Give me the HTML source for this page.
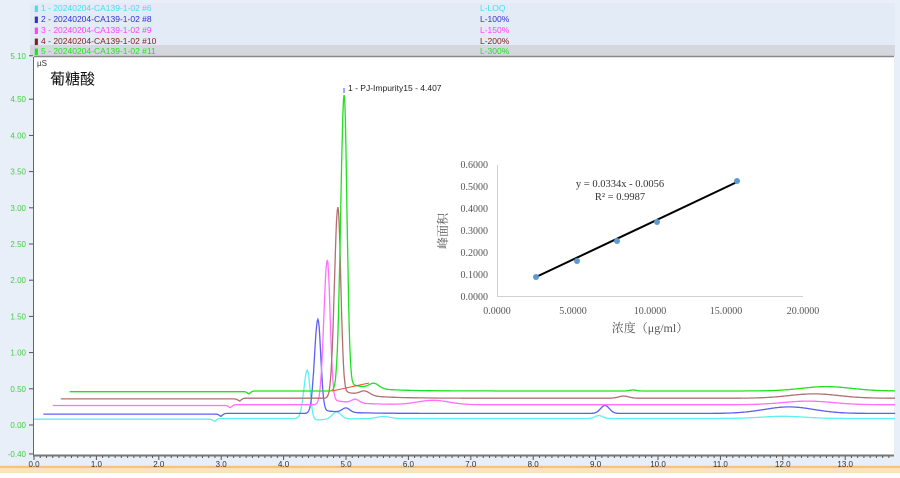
<!DOCTYPE html>
<html><head><meta charset="utf-8"><style>
body{margin:0;width:900px;height:473px;overflow:hidden;background:#fff;font-family:"Liberation Sans","Noto Sans CJK SC",sans-serif}
</style></head><body>
<svg id="s" width="900" height="473" xmlns="http://www.w3.org/2000/svg" font-family="Liberation Sans, Noto Sans CJK SC, sans-serif">
<rect x="0" y="0" width="900" height="473" fill="#e9eff8"/>
<rect x="30" y="3" width="865" height="54" fill="#e3ebf6"/>
<rect x="30" y="45" width="865" height="11" fill="#d4d8de"/>
<g font-size="8.5">
<text x="34" y="11" fill="#40e0f0">▮ 1 - 20240204-CA139-1-02 #6</text>
<text x="34" y="22" fill="#3030d0">▮ 2 - 20240204-CA139-1-02 #8</text>
<text x="34" y="33" fill="#ff40ff">▮ 3 - 20240204-CA139-1-02 #9</text>
<text x="34" y="44" fill="#802020">▮ 4 - 20240204-CA139-1-02 #10</text>
<text x="34" y="54" fill="#20e020">▮ 5 - 20240204-CA139-1-02 #11</text>
<text x="480" y="11" fill="#40e0f0">L-LOQ</text>
<text x="480" y="22" fill="#3030d0">L-100%</text>
<text x="480" y="33" fill="#ff40ff">L-150%</text>
<text x="480" y="44" fill="#802020">L-200%</text>
<text x="480" y="54" fill="#20e020">L-300%</text>
</g>
<rect x="34" y="57" width="860" height="398" fill="#fff"/>
<line x1="34" y1="56.5" x2="894" y2="56.5" stroke="#888" stroke-width="1.5"/>
<line x1="33.5" y1="57" x2="33.5" y2="456" stroke="#666"/>
<line x1="33" y1="455.5" x2="894" y2="455.5" stroke="#777" stroke-width="2"/>
<rect x="0" y="465" width="900" height="8" fill="#fbe3bd"/>
<rect x="0" y="466" width="900" height="2" fill="#f5c27a"/>
<g id="yt" font-size="8" fill="#40d040" text-anchor="end"></g>
<g id="xt" font-size="8" fill="#333" text-anchor="middle"></g>
<text x="37" y="66" font-size="8" fill="#333">µS</text>
<text x="50" y="84" font-size="15" fill="#111">葡糖酸</text>
<text x="348" y="91" font-size="8.5" fill="#222">1 - PJ-Impurity15 - 4.407</text>
<line x1="344" y1="88" x2="344" y2="93" stroke="#88f" stroke-width="1.5"/>
<g id="tr" fill="none" stroke-width="1.3"></g>
<line x1="332" y1="391" x2="369" y2="383" stroke="#f44" stroke-width="1"/>
<g font-family="Liberation Serif, Noto Serif CJK SC, serif" font-size="10" fill="#555">
<line x1="497" y1="296.5" x2="803" y2="296.5" stroke="#d0d0d0"/>
<line x1="497.5" y1="165" x2="497.5" y2="296" stroke="#d0d0d0"/>
<g text-anchor="end">
<text x="488" y="168">0.6000</text><text x="488" y="190">0.5000</text><text x="488" y="212">0.4000</text>
<text x="488" y="234">0.3000</text><text x="488" y="256">0.2000</text><text x="488" y="278">0.1000</text><text x="488" y="300">0.0000</text>
</g>
<g text-anchor="middle">
<text x="497" y="314">0.0000</text><text x="573" y="314">5.0000</text><text x="650" y="314">10.0000</text>
<text x="726" y="314">15.0000</text><text x="803" y="314">20.0000</text>
</g>
<text x="650" y="332" text-anchor="middle" font-size="12">浓度（μg/ml）</text>
<text transform="translate(447,231) rotate(-90)" text-anchor="middle" font-size="12">峰面积</text>
<text x="620" y="187" font-size="10.5" fill="#333" text-anchor="middle">y = 0.0334x - 0.0056</text>
<text x="620" y="200" font-size="10.5" fill="#333" text-anchor="middle">R² = 0.9987</text>
<line x1="536" y1="277" x2="737" y2="182" stroke="#000" stroke-width="2"/>
<g fill="#5b9bd5"><circle cx="536" cy="277" r="3"/><circle cx="577" cy="261" r="3"/><circle cx="617" cy="241" r="3"/><circle cx="657" cy="222" r="3"/><circle cx="737" cy="181" r="3"/></g>
</g>
</svg>
<script>
var ns="http://www.w3.org/2000/svg";
function X(t){return 34+62.4*t} function Y(v){return 425-72.4*v}
var yt=document.getElementById('yt');
[[5.10],[4.50],[4.00],[3.50],[3.00],[2.50],[2.00],[1.50],[1.00],[0.50],[0.00],[-0.40]].forEach(function(a){
var e=document.createElementNS(ns,'text');e.setAttribute('x',26);e.setAttribute('y',Y(a[0])+3);e.textContent=a[0].toFixed(2);yt.appendChild(e);
var l=document.createElementNS(ns,'line');l.setAttribute('x1',29);l.setAttribute('x2',33);l.setAttribute('y1',Y(a[0]));l.setAttribute('y2',Y(a[0]));l.setAttribute('stroke','#555');yt.appendChild(l);});
var xt=document.getElementById('xt');
for(var i=0;i<=13;i++){var e=document.createElementNS(ns,'text');e.setAttribute('x',X(i));e.setAttribute('y',467);e.textContent=i.toFixed(1);xt.appendChild(e);}
for(var i=0;i<=137;i++){var l=document.createElementNS(ns,'line');var x=X(i/10);l.setAttribute('x1',x);l.setAttribute('x2',x);l.setAttribute('y1',456);l.setAttribute('y2',i%10?458:460);l.setAttribute('stroke','#555');xt.appendChild(l);}
var T=[
{c:'#60f0f0',s:0,b:0.08,d:2.9,p:4.38,h:0.67,tail:-0.03,bumps:[[4.85,0.1,0.07],[5.6,0.03,0.1],[9.05,0.04,0.06],[12.0,0.03,0.35]]},
{c:'#6060f0',s:0.15,b:0.15,d:3.0,p:4.55,h:1.3,tail:0.05,bumps:[[5.0,0.06,0.06],[9.15,0.11,0.07],[12.1,0.09,0.4]]},
{c:'#ff70ff',s:0.3,b:0.27,d:3.15,p:4.7,h:2.0,tail:0.08,bumps:[[5.15,0.05,0.06],[6.4,0.06,0.25],[12.4,0.05,0.4]]},
{c:'#b07070',s:0.43,b:0.36,d:3.3,p:4.87,h:2.64,tail:0.12,bumps:[[5.3,0.06,0.08],[9.45,0.03,0.08],[12.5,0.06,0.4]]},
{c:'#20e020',s:0.57,b:0.46,d:3.45,p:4.97,h:4.09,tail:0.12,bumps:[[5.45,0.07,0.08],[9.6,0.015,0.05],[12.7,0.06,0.4]]}];
var g=document.getElementById('tr');
T.forEach(function(o){var d='';for(var t=o.s;t<=13.8;t+=0.01){var v=o.b;
v-=0.03*Math.exp(-Math.pow((t-o.d)/0.04,2));
if(t>o.d) v+=0.01;
var sg=t<o.p?0.055:0.045; v+=o.h*Math.exp(-Math.pow((t-o.p)/sg,2)/2);
if(t>o.p) v+=o.tail*Math.exp(-(t-o.p)/0.4)*Math.min(1,(t-o.p)/0.08);
o.bumps.forEach(function(b){v+=b[1]*Math.exp(-Math.pow((t-b[0])/b[2],2)/2)});
d+=(d?'L':'M')+X(t).toFixed(1)+' '+Y(v).toFixed(1);}
var p=document.createElementNS(ns,'path');p.setAttribute('d',d);p.setAttribute('stroke',o.c);g.appendChild(p);});
</script>
</body></html>
